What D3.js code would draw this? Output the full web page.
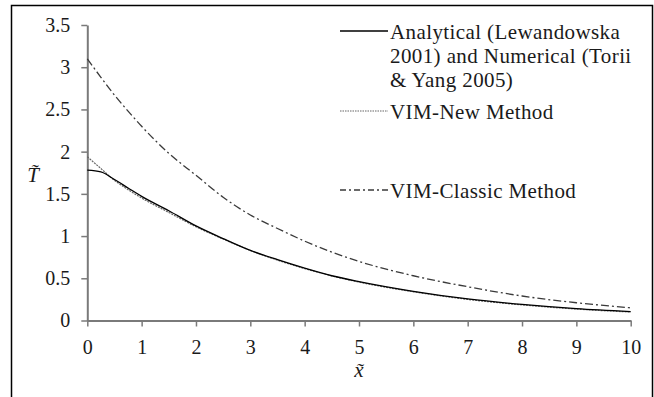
<!DOCTYPE html>
<html>
<head>
<meta charset="utf-8">
<script src="https://cdn.jsdelivr.net/npm/d3@7"></script>
<style>
  body { margin: 0; background: #fff; }
</style>
</head>
<body>
<div id="chart"></div>
<script>
// values
var xs =         [0,    0.25, 0.5,  0.75, 1,    1.5,  2,    2.5,  3,    3.5,  4,    4.5,  5,    6,     7,     8,    9,    10];
var analytical = [1.78, 1.76, 1.67, 1.57, 1.47, 1.30, 1.12, 0.97, 0.83, 0.72, 0.62, 0.53, 0.46, 0.345, 0.255, 0.19, 0.14, 0.105];
var vimNew =     [1.94, 1.80, 1.66, 1.55, 1.45, 1.28, 1.11, 0.965,0.83, 0.715,0.615,0.528,0.455,0.34,  0.25,  0.185,0.135,0.10];
var vimClassic = [3.10, 2.88, 2.67, 2.48, 2.30, 1.98, 1.72, 1.46, 1.25, 1.09, 0.94, 0.81, 0.70, 0.53,  0.40,  0.29, 0.21, 0.15];

var xTicks = [0,1,2,3,4,5,6,7,8,9,10];
var yTicks = [0,0.5,1,1.5,2,2.5,3,3.5];

var legendLabels = [
  ["Analytical (Lewandowska", "2001) and Numerical (Torii", "& Yang 2005)"],
  ["VIM-New Method"],
  ["VIM-Classic Method"]
];

var FONT = "'Times New Roman'";
var W = 654, H = 397;
var svg = d3.select("#chart").append("svg")
  .attr("width", W).attr("height", H);

// outer frame
svg.append("rect")
  .attr("x", 11.5).attr("y", 5.5)
  .attr("width", 641).attr("height", 400)
  .attr("fill", "none").attr("stroke", "#000").attr("stroke-width", 1.5);

var x = d3.scaleLinear().domain([0, 10]).range([87.3, 630.7]);
var y = d3.scaleLinear().domain([0, 3.5]).range([320.5, 25]);

var axisColor = "#7a7a7a";

// y axis
var gy = svg.append("g")
  .attr("transform", "translate(" + x(0) + ",0)")
  .call(d3.axisLeft(y).tickValues(yTicks).tickSize(6).tickSizeOuter(0).tickPadding(11)
    .tickFormat(function(d){ return String(d); }));
gy.selectAll("text").style("font-family", FONT).style("font-size", "20px").attr("fill", "#1a1a1a");
gy.selectAll("line").attr("stroke", axisColor).attr("stroke-width", 1.5);
gy.select(".domain").attr("stroke", axisColor).attr("stroke-width", 2);

// x axis
var gx = svg.append("g")
  .attr("transform", "translate(0," + y(0) + ")")
  .call(d3.axisBottom(x).tickValues(xTicks).tickSize(6).tickSizeOuter(0).tickPadding(13));
gx.selectAll("text").style("font-family", FONT).style("font-size", "20px").attr("fill", "#1a1a1a");
gx.selectAll("line").attr("stroke", axisColor).attr("stroke-width", 1.5);
gx.select(".domain").attr("stroke", axisColor).attr("stroke-width", 2);

// axis titles
svg.append("text")
  .attr("x", 33).attr("y", 182)
  .attr("text-anchor", "middle")
  .style("font-family", FONT).style("font-size", "21px").style("font-style", "italic")
  .attr("fill", "#1a1a1a")
  .text("T\u0303");
svg.append("text")
  .attr("x", (x(0) + x(10)) / 2).attr("y", 377)
  .attr("text-anchor", "middle")
  .style("font-family", FONT).style("font-size", "21px").style("font-style", "italic")
  .attr("fill", "#1a1a1a")
  .text("x\u0303");

var line = d3.line()
  .x(function(d){ return x(d[0]); })
  .y(function(d){ return y(d[1]); })
  .curve(d3.curveMonotoneX);

var series = [
  {vals: vimClassic, color: "#3a3a3a", width: 1.3, dash: "8,3,2,3"},
  {vals: vimNew,     color: "#666",    width: 1.2, dash: "2,1"},
  {vals: analytical, color: "#000",    width: 1.3, dash: null}
];

series.forEach(function(s){
  svg.append("path")
    .datum(xs.map(function(v, i){ return [v, s.vals[i]]; }))
    .attr("d", line)
    .attr("fill", "none")
    .attr("stroke", s.color)
    .attr("stroke-width", s.width)
    .attr("stroke-dasharray", s.dash);
});

// legend
var legendY = [31, 111, 190];
var legendStyle = [series[2], series[1], series[0]];
legendLabels.forEach(function(lines, i){
  var s = legendStyle[i];
  svg.append("line")
    .attr("x1", 340).attr("x2", 388)
    .attr("y1", legendY[i]).attr("y2", legendY[i])
    .attr("stroke", s.color).attr("stroke-width", s.width)
    .attr("stroke-dasharray", i == 0 ? null : (i == 1 ? "1.5,1" : "6,3,2,3"));
  lines.forEach(function(t, j){
    svg.append("text")
      .attr("x", 390).attr("y", legendY[i] + 7.5 + j * 24)
      .style("font-family", FONT)
      .style("font-size", "21px")
      .style("letter-spacing", "0.4px")
      .attr("fill", "#1a1a1a")
      .text(t);
  });
});
</script>
</body>
</html>
